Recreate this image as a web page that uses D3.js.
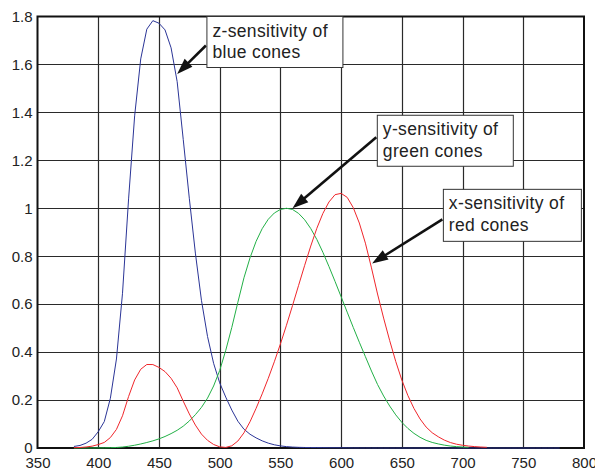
<!DOCTYPE html>
<meta charset="utf-8">
<style>
    body { margin: 0; background: white; }
    svg { font-family: "Liberation Sans", Arial, sans-serif; display: block; }
    .tick text { font-size: 15px; fill: #222; }
    .note text { font-size: 17.5px; fill: #222; }
</style>

<script src="https://d3js.org/d3.v7.min.js"></script>

<body>
<script>

    // wavelength (nm), 5 nm steps
    var wavelength = d3.range(380, 785, 5)

    // x-sensitivity (red cones)
    var xbar = [0.0014, 0.0022, 0.0042, 0.0077, 0.0143, 0.0232, 0.0435, 0.0776, 0.1344, 0.2148,
        0.2839, 0.3285, 0.3483, 0.3481, 0.3362, 0.3187, 0.2908, 0.2511, 0.1954, 0.1421,
        0.0956, 0.0580, 0.0320, 0.0147, 0.0049, 0.0024, 0.0093, 0.0291, 0.0633, 0.1096,
        0.1655, 0.2258, 0.2904, 0.3597, 0.4335, 0.5121, 0.5945, 0.6784, 0.7621, 0.8425,
        0.9163, 0.9786, 1.0263, 1.0567, 1.0622, 1.0456, 1.0026, 0.9384, 0.8545, 0.7514,
        0.6424, 0.5419, 0.4479, 0.3608, 0.2835, 0.2187, 0.1649, 0.1212, 0.0874, 0.0636,
        0.0468, 0.0329, 0.0227, 0.0158, 0.0114, 0.0081, 0.0058, 0.0041, 0.0029]

    // y-sensitivity (green cones)
    var ybar = [0.0000, 0.0001, 0.0001, 0.0002, 0.0004, 0.0006, 0.0012, 0.0022, 0.0040, 0.0073,
        0.0116, 0.0168, 0.0230, 0.0298, 0.0380, 0.0480, 0.0600, 0.0739, 0.0910, 0.1126,
        0.1390, 0.1693, 0.2080, 0.2586, 0.3230, 0.4073, 0.5030, 0.6082, 0.7100, 0.7932,
        0.8620, 0.9149, 0.9540, 0.9803, 0.9950, 1.0000, 0.9950, 0.9786, 0.9520, 0.9154,
        0.8700, 0.8163, 0.7570, 0.6949, 0.6310, 0.5668, 0.5030, 0.4412, 0.3810, 0.3210,
        0.2650, 0.2170, 0.1750, 0.1382, 0.1070, 0.0816, 0.0610, 0.0446, 0.0320, 0.0232,
        0.0170, 0.0119, 0.0082, 0.0057, 0.0041, 0.0029]

    // z-sensitivity (blue cones)
    var zbar = [0.0065, 0.0106, 0.0201, 0.0362, 0.0679, 0.1102, 0.2074, 0.3713, 0.6456, 1.0391,
        1.3856, 1.6230, 1.7471, 1.7826, 1.7721, 1.7441, 1.6692, 1.5281, 1.2876, 1.0419,
        0.8130, 0.6162, 0.4652, 0.3533, 0.2720, 0.2123, 0.1582, 0.1117, 0.0783, 0.0573,
        0.0422, 0.0298, 0.0203, 0.0134, 0.0088, 0.0058, 0.0039, 0.0028, 0.0021, 0.0018,
        0.0017, 0.0014, 0.0011, 0.0010, 0.0008, 0.0006, 0.0003, 0.0002, 0.0002, 0.0001,
        0.0001, 0.0000, 0.0000, 0.0000, 0.0000, 0.0000, 0.0000, 0.0000, 0.0000, 0.0000,
        0.0000, 0.0000, 0.0000, 0.0000, 0.0000, 0.0000, 0.0000, 0.0000, 0.0000, 0.0000,
        0.0000, 0.0000, 0.0000, 0.0000, 0.0000, 0.0000, 0.0000, 0.0000, 0.0000, 0.0000,
        0.0000]

    var xTicks = d3.range(350, 801, 50)
    var yTicks = [0, 0.2, 0.4, 0.6, 0.8, 1, 1.2, 1.4, 1.6, 1.8]

    // notes: arrow tip on the curve (data units), box corner (data units)
    var notes = [
        { lines: ["z-sensitivity of", "blue cones"], tip: [465, 1.56], box: [489.5, 1.8], w: 136, h: 51, tail: 29 },
        { lines: ["y-sensitivity of", "green cones"], tip: [560, 1.0], box: [629.8, 1.388], w: 136, h: 51, tail: 22 },
        { lines: ["x-sensitivity of", "red cones"], tip: [625.5, 0.77], box: [684.2, 1.079], w: 138, h: 52, tail: 30 }
    ]

    var width = 595
    var height = 470

    var svg = d3.select("body")
        .append("svg")
        .attr("width", width)
        .attr("height", height)

    var x = d3.scaleLinear()
        .domain([350, 800])
        .range([37.5, 584])

    var y = d3.scaleLinear()
        .domain([0, 1.8])
        .range([448, 16.5])

    // grid
    svg.append("g")
        .selectAll("line")
        .data(xTicks.slice(1, -1))
        .enter()
        .append("line")
        .attr("x1", function (d) { return Math.round(x(d)) + 0.5 })
        .attr("x2", function (d) { return Math.round(x(d)) + 0.5 })
        .attr("y1", y(1.8))
        .attr("y2", y(0))
        .attr("stroke", "#2a2a2a")
        .attr("stroke-width", 1.2)

    svg.append("g")
        .selectAll("line")
        .data(yTicks.slice(1, -1))
        .enter()
        .append("line")
        .attr("x1", x(350))
        .attr("x2", x(800))
        .attr("y1", function (d) { return Math.round(y(d)) + 0.5 })
        .attr("y2", function (d) { return Math.round(y(d)) + 0.5 })
        .attr("stroke", "#2a2a2a")
        .attr("stroke-width", 1.2)

    // axes labels
    svg.append("g")
        .attr("transform", "translate(0," + y(0) + ")")
        .call(d3.axisBottom(x).tickValues(xTicks).tickSize(0).tickPadding(9))
        .call(function (g) { g.select(".domain").remove() })

    svg.append("g")
        .attr("transform", "translate(" + x(350) + ",0)")
        .call(d3.axisLeft(y).tickValues(yTicks).tickSize(0).tickPadding(5)
            .tickFormat(function (d) { return String(+d.toFixed(1)) }))
        .call(function (g) { g.select(".domain").remove() })

    svg.selectAll(".tick text").attr("fill", "#222")

    // frame
    svg.append("rect")
        .attr("x", x(350))
        .attr("y", y(1.8))
        .attr("width", x(800) - x(350))
        .attr("height", y(0) - y(1.8))
        .attr("fill", "none")
        .attr("stroke", "#111")
        .attr("stroke-width", 2)

    // curves
    var series = [
        { name: "z", values: zbar, color: "#2b3597" },
        { name: "y", values: ybar, color: "#22b046" },
        { name: "x", values: xbar, color: "#f0262b" }
    ]

    var line = d3.line()
        .x(function (d) { return x(d[0]) })
        .y(function (d) { return y(d[1]) })

    svg.append("g")
        .selectAll("path")
        .data(series)
        .enter()
        .append("path")
        .attr("d", function (s) {
            return line(s.values.map(function (v, i) { return [wavelength[i], v] }))
        })
        .attr("fill", "none")
        .attr("stroke", function (s) { return s.color })
        .attr("stroke-width", 1)

    // notes with arrows
    var note = svg.append("g")
        .selectAll("g")
        .data(notes)
        .enter()
        .append("g")
        .attr("class", "note")

    note.each(function (d) {
        var g = d3.select(this)
        var bx = x(d.box[0]), by = y(d.box[1])
        var tx = x(d.tip[0]), ty = y(d.tip[1])
        var sx = bx - 1, sy = by + d.tail

        var dx = tx - sx, dy = ty - sy
        var len = Math.sqrt(dx * dx + dy * dy)
        var ux = dx / len, uy = dy / len
        var hl = 16, hw = 5.5
        var baseX = tx - ux * hl, baseY = ty - uy * hl

        g.append("line")
            .attr("x1", sx)
            .attr("y1", sy)
            .attr("x2", baseX + ux * 2)
            .attr("y2", baseY + uy * 2)
            .attr("stroke", "#111")
            .attr("stroke-width", 2.6)

        g.append("path")
            .attr("d", "M" + tx + "," + ty +
                "L" + (baseX - uy * hw) + "," + (baseY + ux * hw) +
                "L" + (baseX + uy * hw) + "," + (baseY - ux * hw) + "Z")
            .attr("fill", "#111")

        g.append("rect")
            .attr("x", bx)
            .attr("y", by)
            .attr("width", d.w)
            .attr("height", d.h)
            .attr("fill", "white")
            .attr("stroke", "#333")
            .attr("stroke-width", 1)

        g.selectAll("text")
            .data(d.lines)
            .enter()
            .append("text")
            .attr("x", bx + 5.5)
            .attr("y", function (t, i) { return by + 20 + i * 21.5 })
            .style("letter-spacing", "0.35px")
            .text(function (t) { return t })
    })

</script>
</body>
